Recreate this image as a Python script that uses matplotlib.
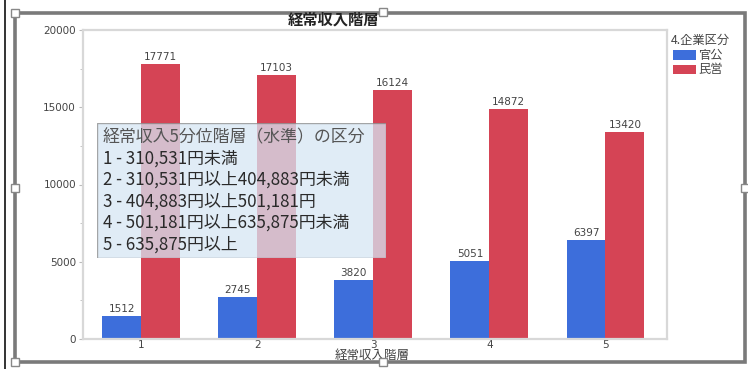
import matplotlib
matplotlib.use("Agg")
import matplotlib.pyplot as plt
from matplotlib.patches import Rectangle
from matplotlib.ticker import MultipleLocator
import numpy as np

plt.rcParams['font.family'] = ['Noto Sans CJK JP', 'DejaVu Sans']

categories = ["1", "2", "3", "4", "5"]
kankou = [1512, 2745, 3820, 5051, 6397]      # 官公
minei = [17771, 17103, 16124, 14872, 13420]  # 民営
series_names = ["官公", "民営"]
legend_title = "4.企業区分"
chart_title = "経常収入階層"
x_label = "経常収入階層"
note_lines = [
    "経常収入5分位階層（水準）の区分",
    "1 - 310,531円未満",
    "2 - 310,531円以上404,883円未満",
    "3 - 404,883円以上501,181円",
    "4 - 501,181円以上635,875円未満",
    "5 - 635,875円以上",
]

W, H = 748, 369
fig = plt.figure(figsize=(W / 100, H / 100), dpi=100)
fig.patch.set_facecolor("white")

def fx(px):
    return px / W

def fy(py):
    return 1 - py / H

ax = fig.add_axes([fx(83), fy(339), fx(667) - fx(83), fy(30) - fy(339)])

blue = "#3D6EDB"
red = "#D54455"
x = np.arange(len(categories))
bw = 0.335
b1 = ax.bar(x - bw / 2, kankou, bw, color=blue, zorder=2)
b2 = ax.bar(x + bw / 2, minei, bw, color=red, zorder=2)

for bars, vals in ((b1, kankou), (b2, minei)):
    for rect, v in zip(bars, vals):
        ax.text(rect.get_x() + rect.get_width() / 2, v + 130, f"{v}",
                ha="center", va="bottom", fontsize=7.5, color="#444444",
                family="DejaVu Sans", zorder=3)

ax.set_xlim(-0.5, 4.53)
ax.set_ylim(0, 20000)
ax.set_xticks(x)
ax.set_xticklabels(categories)
ax.yaxis.set_major_locator(MultipleLocator(5000))
ax.yaxis.set_minor_locator(MultipleLocator(2500))
ax.tick_params(axis="both", labelsize=7.5, colors="#BBBBBB", labelcolor="#444444",
               length=3, width=0.8, pad=2)
ax.tick_params(axis="y", which="minor", length=2, colors="#BBBBBB")
ax.tick_params(axis="x", length=0, pad=1)
for lab in ax.get_xticklabels() + ax.get_yticklabels():
    lab.set_family("DejaVu Sans")
for s in ax.spines.values():
    s.set_color("#D8D8D8")
    s.set_linewidth(1.6)

# explanatory box
ax_note = fig.add_axes([fx(97), fy(258), fx(386) - fx(97), fy(123) - fy(258)])
ax_note.set_xlim(0, 1)
ax_note.set_ylim(0, 1)
ax_note.axis("off")
ax_note.add_patch(Rectangle((0, 0), 1, 1, transform=ax_note.transAxes,
                            facecolor="#D6E6F4", alpha=0.75,
                            edgecolor="#8A8A8A", linewidth=1.0))
for i, line in enumerate(note_lines):
    ax_note.text(0.02, 0.896 - i * 0.159, line, fontsize=12.2,
                 color="#555555" if i == 0 else "#2A2A2A",
                 va="center", ha="left", transform=ax_note.transAxes)

# titles
fig.text(fx(334), fy(20), chart_title, fontsize=11, fontweight="bold",
         color="#222222", ha="center", va="center")
fig.text(fx(372), fy(355), x_label, fontsize=9, color="#444444",
         ha="center", va="center")

# legend
fig.text(fx(671), fy(40), legend_title, fontsize=8.8, color="#444444",
         ha="left", va="center")
for i, (name, col) in enumerate(zip(series_names, (blue, red))):
    yc = 55 + i * 14.5
    fig.patches.append(Rectangle((fx(673), fy(yc + 4.5)), fx(696) - fx(673),
                                 fy(yc - 4.5) - fy(yc + 4.5), facecolor=col,
                                 edgecolor="none", transform=fig.transFigure))
    fig.text(fx(698), fy(yc), name, fontsize=8.8, color="#444444",
             ha="left", va="center")

# surrounding frame with selection handles
fig.add_artist(plt.Line2D([fx(5), fx(5)], [0, 1], color="#111111", lw=1.2,
                          transform=fig.transFigure))
fig.patches.append(Rectangle((fx(15), fy(362)), fx(745) - fx(15), fy(13) - fy(362),
                             facecolor="none", edgecolor="#7A7A7A", lw=2.6,
                             transform=fig.transFigure))
for hx, hy in [(15, 13), (383, 12), (15, 188), (745, 188), (15, 362), (383, 362)]:
    fig.patches.append(Rectangle((fx(hx - 4), fy(hy + 4)), fx(8), 8 / H,
                                 facecolor="white", edgecolor="#888888", lw=1.0,
                                 transform=fig.transFigure, zorder=10))

fig.savefig("out.png", dpi=100)
